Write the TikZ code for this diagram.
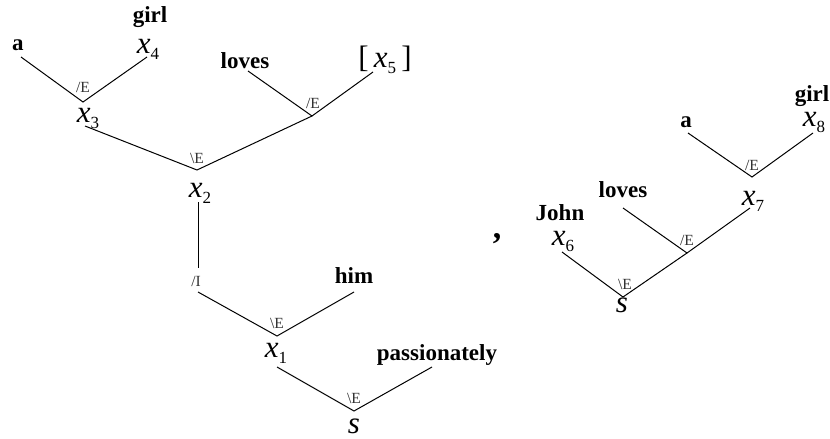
\documentclass[tikz,border=0pt]{standalone}
\usepackage{fontspec}
\setmainfont{Liberation Serif}
\begin{document}
\begin{tikzpicture}[x=1pt,y=-1pt,
  word/.style={font=\fontsize{23}{26}\selectfont\bfseries,inner sep=0pt,anchor=base},
  var/.style={font=\fontsize{31}{32}\selectfont,inner sep=0pt,anchor=base},
  rule/.style={font=\fontsize{15.5}{17}\selectfont,inner sep=0pt,anchor=base,text=black!80},
  ln/.style={line width=1pt}]
\useasboundingbox (0,0) rectangle (830,439);
\newcommand{\xv}[1]{\textit{x}\raisebox{-0.22em}{\fontsize{17}{17}\selectfont #1}}
% ---- left tree
\node[word] (a1) at (18,50) {a};
\node[word] (girl1) at (150,23) {girl};
\node[var] (x4) at (148,53) {\xv{4}};
\node[var] (x3) at (88,122) {\xv{3}};
\node[word] (loves1) at (245,68) {loves};
\node[var] (x5) at (385,67) {[\,\xv{5}\,]};
\node[var] (x2) at (200,197) {\xv{2}};
\node[word] (him) at (354,283) {him};
\node[var] (x1) at (276,357) {\xv{1}};
\node[word] (pass) at (437,360) {passionately};
\node[var] (s1) at (354,433) {\textit{s}};
\node[rule] (r1) at (83,92) {/E};
\node[rule] (r2) at (313,108) {/E};
\node[rule] (r3) at (197,163) {\textbackslash E};
\node[rule] (r4) at (196,286) {/I};
\node[rule] (r5) at (277,328) {\textbackslash E};
\node[rule] (r6) at (354,403) {\textbackslash E};
\coordinate (a1e) at (21,57);
\coordinate (x4e) at (147,57);
\coordinate (j1) at (83,102);
\coordinate (x3e) at (85,126);
\coordinate (lv1e) at (248,71);
\coordinate (x5e) at (373,72);
\coordinate (j2) at (312,116);
\coordinate (j3) at (197,170);
\coordinate (x2e) at (198,202);
\coordinate (j4) at (198,268);
\coordinate (j4b) at (198,292);
\coordinate (himE) at (354,292);
\coordinate (j5) at (277,336);
\coordinate (x1e) at (277,367);
\coordinate (passE) at (432,367);
\coordinate (j6) at (354,411);
\draw[ln] (a1e) -- (j1) -- (x4e);
\draw[ln] (lv1e) -- (j2) -- (x5e);
\draw[ln] (x3e) -- (j3) -- (j2);
\draw[ln] (x2e) -- (j4);
\draw[ln] (j4b) -- (j5) -- (himE);
\draw[ln] (x1e) -- (j6) -- (passE);
% ---- comma
\node[word,font=\fontsize{34}{36}\selectfont\bfseries] (comma) at (497,238) {,};
% ---- right tree
\node[word] (a2) at (686,127) {a};
\node[word] (girl2) at (812,101) {girl};
\node[var] (x8) at (814,126) {\xv{8}};
\node[var] (x7) at (753,205) {\xv{7}};
\node[word] (loves2) at (623,197) {loves};
\node[word] (john) at (560,220) {John};
\node[var] (x6) at (563,245) {\xv{6}};
\node[var] (s2) at (622,312) {\textit{s}};
\node[rule] (r7) at (752,170) {/E};
\node[rule] (r8) at (687,245) {/E};
\node[rule] (r9) at (625,289) {\textbackslash E};
\coordinate (a2e) at (688,133);
\coordinate (x8e) at (813,133);
\coordinate (j7) at (752,177);
\coordinate (x7e) at (750,208);
\coordinate (lv2e) at (623,208);
\coordinate (j8) at (687,253);
\coordinate (x6e) at (562,252);
\coordinate (j9) at (623,297);
\draw[ln] (a2e) -- (j7) -- (x8e);
\draw[ln] (lv2e) -- (j8) -- (x7e);
\draw[ln] (x6e) -- (j9) -- (j8);
\end{tikzpicture}
\end{document}
